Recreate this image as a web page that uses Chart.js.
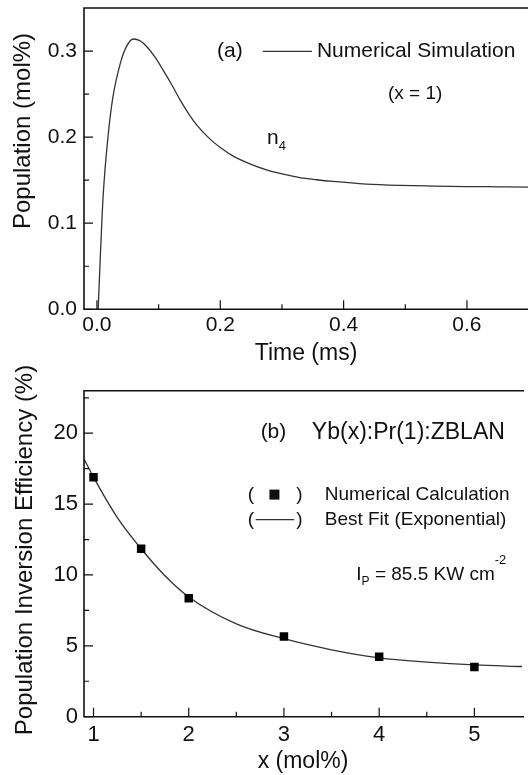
<!DOCTYPE html>
<html>
<head>
<meta charset="utf-8">
<script src="https://cdn.jsdelivr.net/npm/chart.js@4"></script>
<style>
  html, body { margin: 0; padding: 0; background: #fff; overflow: hidden; }
  #wrap { position: relative; width: 528px; height: 775px; overflow: hidden; }
  canvas { position: absolute; left: 0; }
  #chartA { top: 0; }
  #chartB { top: 340px; }
</style>
</head>
<body>
<div id="wrap">
  <canvas id="chartA" width="528" height="375"></canvas>
  <canvas id="chartB" width="528" height="440"></canvas>
</div>
<script>
// (a) n4 population against time, x = 1
const timeMs = [0.002, 0.005, 0.010, 0.018, 0.026, 0.038, 0.047, 0.059, 0.070, 0.081,
  0.095, 0.108, 0.122, 0.135, 0.148, 0.162, 0.183, 0.200, 0.221, 0.248, 0.275, 0.302,
  0.329, 0.356, 0.383, 0.437, 0.491, 0.545, 0.600, 0.650, 0.699];
const popN4 = [0.000, 0.053, 0.131, 0.201, 0.247, 0.286, 0.304, 0.314, 0.312, 0.305,
  0.292, 0.277, 0.260, 0.243, 0.228, 0.214, 0.198, 0.188, 0.178, 0.169, 0.162, 0.157,
  0.153, 0.1505, 0.1485, 0.1455, 0.1440, 0.1432, 0.1426, 0.1423, 0.1420];
const timeMajor = [0, 0.2, 0.4, 0.6];
const timeMinor = [0.1, 0.3, 0.5];
const timeLabels = ["0.0", "0.2", "0.4", "0.6"];
const popMajor = [0, 0.1, 0.2, 0.3];
const popMinor = [0.05, 0.15, 0.25];
const popLabels = ["0.0", "0.1", "0.2", "0.3"];

// (b) inversion efficiency against Yb concentration
const ybCalc = [1, 1.5, 2, 3, 4, 5];
const effCalc = [16.9, 11.85, 8.35, 5.65, 4.23, 3.5];
const ybFit = [0.9, 1.0, 1.25, 1.5, 1.75, 2.0, 2.5, 3.0, 3.5, 4.0, 4.5, 5.0, 5.5];
const effFit = [18.2, 16.9, 14.05, 11.85, 9.95, 8.45, 6.55, 5.5, 4.72, 4.15, 3.85, 3.65, 3.54];
const ybMajor = [1, 2, 3, 4, 5];
const ybMinor = [1.5, 2.5, 3.5, 4.5];
const ybLabels = ["1", "2", "3", "4", "5"];
const effMajor = [0, 5, 10, 15, 20];
const effMinor = [2.5, 7.5, 12.5, 17.5, 22.5];
const effLabels = ["0", "5", "10", "15", "20"];

const FONT = '"Liberation Sans", Arial, Helvetica, sans-serif';
const INK = "#111";
const LINE = "#333";

function runs(ctx, x, y, parts) {
  ctx.textBaseline = "middle";
  ctx.textAlign = "left";
  parts.forEach(([t, size, dy]) => {
    ctx.font = `${size}px ${FONT}`;
    ctx.fillText(t, x, y + (dy || 0));
    x += ctx.measureText(t).width;
  });
}

function yTitle(ctx, text, cx, cy, size) {
  ctx.save();
  ctx.translate(cx, cy);
  ctx.rotate(-Math.PI / 2);
  ctx.font = `${size}px ${FONT}`;
  ctx.textAlign = "center";
  ctx.textBaseline = "middle";
  ctx.fillText(text, 0, 0);
  ctx.restore();
}

function hline(ctx, x0, x1, y) {
  ctx.beginPath();
  ctx.moveTo(x0, y);
  ctx.lineTo(x1, y);
  ctx.stroke();
}

// open box (left, top, bottom) with inward ticks
const frame = {
  id: "frame",
  afterDraw(chart, args, opts) {
    const { ctx, chartArea: a, scales: { x, y } } = chart;
    ctx.save();
    ctx.strokeStyle = INK;
    ctx.lineWidth = 1.6;
    ctx.beginPath();
    ctx.moveTo(a.right + 2, a.top);
    ctx.lineTo(a.left, a.top);
    ctx.lineTo(a.left, a.bottom);
    ctx.lineTo(a.right + 2, a.bottom);
    ctx.stroke();
    ctx.lineWidth = 1.2;
    ctx.beginPath();
    const xt = (v, len) => { const p = x.getPixelForValue(v); ctx.moveTo(p, a.bottom); ctx.lineTo(p, a.bottom - len); };
    const yt = (v, len) => { const p = y.getPixelForValue(v); ctx.moveTo(a.left, p); ctx.lineTo(a.left + len, p); };
    x.ticks.forEach(t => xt(t.value, 9));
    opts.xMinor.forEach(v => xt(v, 5));
    y.ticks.forEach(t => yt(t.value, 9));
    opts.yMinor.forEach(v => yt(v, 5));
    ctx.stroke();
    ctx.restore();
  }
};

const notesA = {
  id: "notesA",
  afterDraw(chart) {
    const { ctx, scales: { x, y } } = chart;
    ctx.save();
    ctx.fillStyle = INK;
    ctx.strokeStyle = LINE;
    ctx.lineWidth = 1.3;
    yTitle(ctx, "Population (mol%)", 23, 131, 24);
    const ly = y.getPixelForValue(0.2995);
    runs(ctx, x.getPixelForValue(0.1946), ly, [["(a)", 21]]);
    hline(ctx, x.getPixelForValue(0.269), x.getPixelForValue(0.3486), ly);
    runs(ctx, x.getPixelForValue(0.3567), ly, [["Numerical Simulation", 21]]);
    runs(ctx, x.getPixelForValue(0.472), y.getPixelForValue(0.2503), [["(x = 1)", 19]]);
    runs(ctx, x.getPixelForValue(0.2757), y.getPixelForValue(0.1992), [["n", 21], ["4", 13, 9]]);
    ctx.restore();
  }
};

const notesB = {
  id: "notesB",
  afterDraw(chart) {
    const { ctx, scales: { x, y } } = chart;
    ctx.save();
    ctx.fillStyle = INK;
    ctx.strokeStyle = LINE;
    ctx.lineWidth = 1.3;
    yTitle(ctx, "Population Inversion Efficiency (%)", 25, 210, 24);
    const ty = y.getPixelForValue(20.05);
    runs(ctx, x.getPixelForValue(2.755), ty, [["(b)", 21]]);
    runs(ctx, x.getPixelForValue(3.293), ty, [["Yb(x):Pr(1):ZBLAN", 23]]);
    const r1 = y.getPixelForValue(15.67);
    const r2 = y.getPixelForValue(13.9);
    runs(ctx, x.getPixelForValue(2.62), r1, [["(", 19]]);
    const sq = x.getPixelForValue(2.90);
    ctx.fillRect(sq - 5, r1 - 5, 10, 10);
    runs(ctx, x.getPixelForValue(3.13), r1, [[")", 19]]);
    runs(ctx, x.getPixelForValue(3.428), r1, [["Numerical Calculation", 19]]);
    runs(ctx, x.getPixelForValue(2.62), r2, [["(", 19]]);
    hline(ctx, x.getPixelForValue(2.703), x.getPixelForValue(3.107), r2);
    runs(ctx, x.getPixelForValue(3.13), r2, [[")", 19]]);
    runs(ctx, x.getPixelForValue(3.428), r2, [["Best Fit (Exponential)", 19]]);
    runs(ctx, x.getPixelForValue(3.76), y.getPixelForValue(10.01),
      [["I", 19], ["P", 12, 7], [" = 85.5 KW cm", 19], ["-2", 13, -14]]);
    ctx.restore();
  }
};

function axis(min, max, major, labels, fit, size, pad, title) {
  const o = {
    type: "linear",
    min: min,
    max: max,
    grid: { display: false, drawTicks: false },
    border: { display: false },
    afterBuildTicks: s => { s.ticks = major.map(v => ({ value: v })); },
    afterFit: s => {
      fit(s);
      s.paddingTop = 0;
      s.paddingBottom = 0;
      s.paddingLeft = 0;
      s.paddingRight = 0;
    },
    ticks: {
      callback: (v, i) => labels[i],
      font: { size: size, family: FONT },
      color: INK,
      padding: pad,
      maxRotation: 0,
      autoSkip: false
    }
  };
  if (title) {
    o.title = { display: true, text: title.text, font: { size: 23, family: FONT }, color: INK,
      padding: { top: 0, bottom: title.bottom } };
  }
  return o;
}

new Chart(document.getElementById("chartA"), {
  type: "line",
  data: {
    datasets: [{
      data: timeMs.map((t, i) => ({ x: t, y: popN4[i] })),
      borderColor: LINE,
      borderWidth: 1.3,
      pointRadius: 0,
      cubicInterpolationMode: "monotone",
      fill: false
    }]
  },
  options: {
    responsive: false,
    animation: false,
    events: [],
    layout: { padding: { top: 8, left: 0, right: 0, bottom: 0 } },
    plugins: {
      legend: { display: false },
      tooltip: { enabled: false },
      frame: { xMinor: timeMinor, yMinor: popMinor }
    },
    scales: {
      x: axis(-0.021, 0.699, timeMajor, timeLabels, s => { s.height = 65.7; }, 21, 3,
        { text: "Time (ms)", bottom: 8 }),
      y: axis(0, 0.35, popMajor, popLabels, s => { s.width = 84; }, 21, 7, null)
    }
  },
  plugins: [frame, notesA]
});

new Chart(document.getElementById("chartB"), {
  type: "line",
  data: {
    datasets: [{
      data: ybCalc.map((v, i) => ({ x: v, y: effCalc[i] })),
      showLine: false,
      pointStyle: "rect",
      pointRadius: 6,
      pointBackgroundColor: "#000",
      pointBorderColor: "#000",
      pointBorderWidth: 0
    }, {
      data: ybFit.map((v, i) => ({ x: v, y: effFit[i] })),
      borderColor: LINE,
      borderWidth: 1.3,
      pointRadius: 0,
      cubicInterpolationMode: "monotone",
      fill: false
    }]
  },
  options: {
    responsive: false,
    animation: false,
    events: [],
    layout: { padding: { top: 50.7, left: 0, right: 0, bottom: 0 } },
    plugins: {
      legend: { display: false },
      tooltip: { enabled: false },
      frame: { xMinor: ybMinor, yMinor: effMinor }
    },
    scales: {
      x: axis(0.9, 5.5, ybMajor, ybLabels, s => { s.height = 63.3; }, 22, 5,
        { text: "x (mol%)", bottom: 4.5 }),
      y: axis(0, 23, effMajor, effLabels, s => { s.width = 84; }, 22, 6, null)
    }
  },
  plugins: [frame, notesB]
});
</script>
</body>
</html>
